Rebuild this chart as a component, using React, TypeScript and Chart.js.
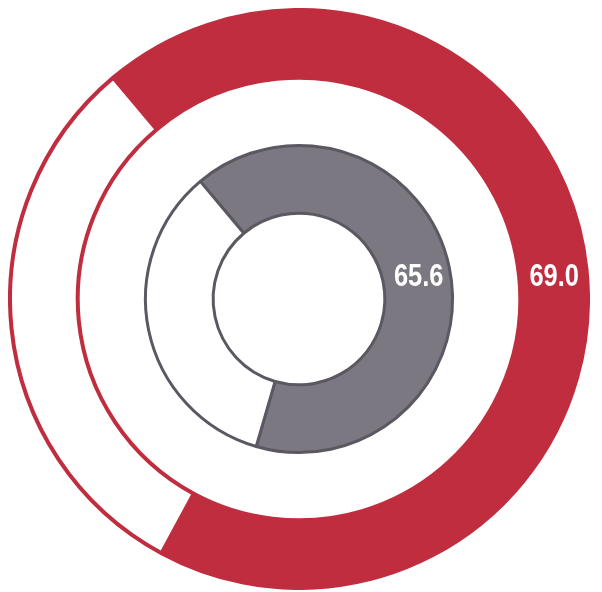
import React, { useEffect, useRef } from "react";
import { Chart, registerables } from "chart.js";

Chart.register(...registerables);

const segmentLabels = ["Value", "Remainder"];
const outerValues = [69.0, 31.0];
const innerValues = [65.6, 34.4];

const RED = "#BF2D3F";
const GRAY_FILL = "#7B7882";
const GRAY_BORDER = "#5B5861";

const valueLabelPlugin = {
  id: "valueLabels",
  afterDatasetsDraw(chart: any) {
    const ctx = chart.ctx;
    [0, 2].forEach((dsIndex) => {
      const meta = chart.getDatasetMeta(dsIndex);
      const arc: any = meta.data[0];
      if (!arc) return;
      const props = arc.getProps(["x", "y", "innerRadius", "outerRadius"], true);
      const mid = (props.innerRadius + props.outerRadius) / 2;
      const value = chart.data.datasets[dsIndex].data[0] as number;
      const sx = 0.82;
      ctx.save();
      ctx.fillStyle = "#ffffff";
      ctx.font = 'bold 31px "Liberation Sans", Arial, sans-serif';
      ctx.textAlign = "center";
      ctx.textBaseline = "alphabetic";
      ctx.translate(props.x + mid, props.y - 13);
      ctx.scale(sx, 1);
      ctx.fillText(value.toFixed(1), 0, 0);
      ctx.restore();
    });
  },
};

export default function App() {
  const canvasRef = useRef<HTMLCanvasElement | null>(null);

  useEffect(() => {
    if (!canvasRef.current) return;
    const chart = new Chart(canvasRef.current, {
      type: "doughnut",
      data: {
        labels: segmentLabels,
        datasets: [
          {
            data: outerValues,
            backgroundColor: [RED, "#ffffff"],
            borderColor: [RED, RED],
            borderWidth: 4,
            hoverBorderWidth: 4,
          },
          {
            data: [1],
            backgroundColor: ["rgba(0,0,0,0)"],
            borderColor: ["rgba(0,0,0,0)"],
            borderWidth: 0,
          },
          {
            data: innerValues,
            backgroundColor: [GRAY_FILL, "#ffffff"],
            borderColor: [GRAY_BORDER, GRAY_BORDER],
            borderWidth: 3,
            hoverBorderWidth: 3,
          },
        ],
      },
      options: {
        animation: false,
        responsive: true,
        maintainAspectRatio: false,
        rotation: -40,
        cutout: "29.7%",
        layout: { padding: 0 },
        plugins: {
          legend: { display: false },
          tooltip: { enabled: false },
        },
      } as any,
      plugins: [valueLabelPlugin],
    });
    return () => chart.destroy();
  }, []);

  return (
    <div style={{ width: "582px", height: "582px", position: "relative" }}>
      <canvas ref={canvasRef} />
    </div>
  );
}
